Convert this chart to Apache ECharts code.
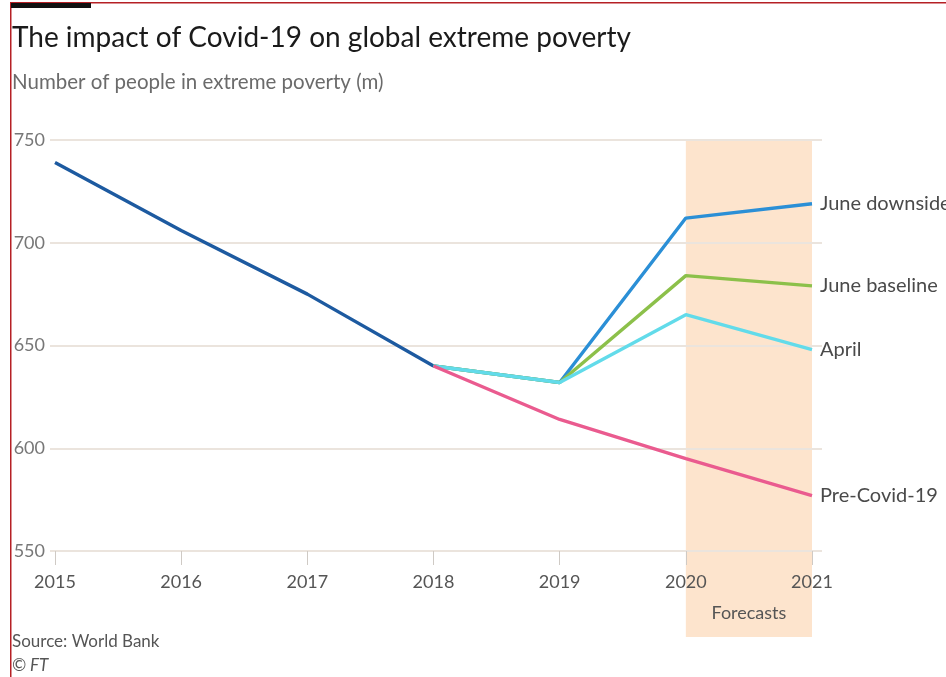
<!DOCTYPE html>
<html><head><meta charset="utf-8">
<style>html,body{margin:0;padding:0;background:#fff}#c{width:946px;height:677px}</style>
<script src="https://cdn.jsdelivr.net/npm/echarts@6/dist/echarts.min.js"></script>
</head><body><div id="c"></div>
<script>
const years = ['2015','2016','2017','2018','2019','2020','2021'];
const history = [739, 706, 675, 640, null, null, null];
const juneDownside = [null, null, null, 640, 632, 712, 719];
const juneBaseline = [null, null, null, 640, 632, 684, 679];
const april = [null, null, null, 640, 632, 665, 648];
const preCovid = [null, null, null, 640, 614, 595, 577];
const yTicks = [550, 600, 650, 700, 750];
const forecastRange = ['2020', '2021'];

const FONT = 'Lato';
const chart = echarts.init(document.getElementById('c'));
function lineSeries(name, data, color, z) {
  return {
    name, type: 'line', data, xAxisIndex: 0, yAxisIndex: 0, z,
    symbol: 'none', connectNulls: false,
    lineStyle: { color, width: 3.4 },
    endLabel: name ? { show: true, formatter: name, color: '#4a4a4a', fontFamily: FONT, fontSize: 20, distance: 8 } : { show: false },
    emphasis: { disabled: true }
  };
}
chart.setOption({
  animation: false,
  title: [
    { text: 'The impact of Covid-19 on global extreme poverty', left: 7, top: 19,
      textStyle: { fontFamily: FONT, fontWeight: 'normal', fontSize: 28, color: '#1a1a1a' } },
    { text: 'Number of people in extreme poverty (m)', left: 7, top: 67,
      textStyle: { fontFamily: FONT, fontWeight: 'normal', fontSize: 20.5, color: '#6b6b6b' } },
    { text: 'Source: World Bank', left: 7, top: 628,
      textStyle: { fontFamily: FONT, fontWeight: 'normal', fontSize: 17, color: '#555' } },
    { text: '© FT', left: 7, top: 652,
      textStyle: { fontFamily: FONT, fontWeight: 'normal', fontStyle: 'italic', fontSize: 17, color: '#555' } }
  ],
  graphic: [
    { type: 'rect', left: 10, top: 2, shape: { width: 936, height: 1.5 }, style: { fill: '#b52025' }, z: 100 },
    { type: 'rect', left: 10, top: 2, shape: { width: 1.5, height: 675 }, style: { fill: '#b52025' }, z: 100 },
    { type: 'rect', left: 11, top: 3, shape: { width: 80, height: 5 }, style: { fill: '#111' }, z: 100 }
  ],
  grid: [
    { left: 55, right: 134, top: 140, bottom: 126 },
    { left: 50, right: 124, top: 140, bottom: 126 },
    { left: 55, right: 134, top: 140, bottom: 40 }
  ],
  xAxis: [
    { type: 'category', gridIndex: 0, data: years, boundaryGap: false, z: 10,
      axisLine: { show: false },
      axisTick: { show: true, length: 14, lineStyle: { color: '#cfcac5', width: 1 } },
      axisLabel: { color: '#555', fontFamily: FONT, fontSize: 18, margin: 22 },
      splitLine: { show: false } },
    { type: 'value', gridIndex: 1, show: false, min: 0, max: 1 },
    { type: 'category', gridIndex: 2, data: years, boundaryGap: false, show: false }
  ],
  yAxis: [
    { type: 'value', gridIndex: 0, min: 550, max: 750, interval: 50, show: false },
    { type: 'value', gridIndex: 1, min: 550, max: 750, interval: 50, z: 1,
      axisLine: { show: false }, axisTick: { show: false },
      axisLabel: { color: '#777', fontFamily: FONT, fontSize: 18, margin: 5,
        formatter: v => yTicks.includes(v) ? String(v) : '' },
      splitLine: { show: true, lineStyle: { color: '#ebe4dd', width: 2 } } },
    { type: 'value', gridIndex: 2, min: 0, max: 1, show: false }
  ],
  series: [
    { type: 'line', xAxisIndex: 2, yAxisIndex: 2, data: [], z: -1, silent: true,
      markArea: { silent: true, z: -1, itemStyle: { color: '#fde4cd' },
        label: { show: true, position: 'insideBottom', distance: 15, formatter: 'Forecasts',
          color: '#555', fontFamily: FONT, fontSize: 18 },
        data: [[{ xAxis: forecastRange[0] }, { xAxis: forecastRange[1] }]] } },
    lineSeries('', history, '#1d5aa0', 3),
    lineSeries('June downside', juneDownside, '#2b8fd6', 4),
    lineSeries('June baseline', juneBaseline, '#8cc04a', 5),
    lineSeries('April', april, '#62dbea', 6),
    lineSeries('Pre-Covid-19', preCovid, '#ea5b8f', 7)
  ]
});
</script></body></html>
